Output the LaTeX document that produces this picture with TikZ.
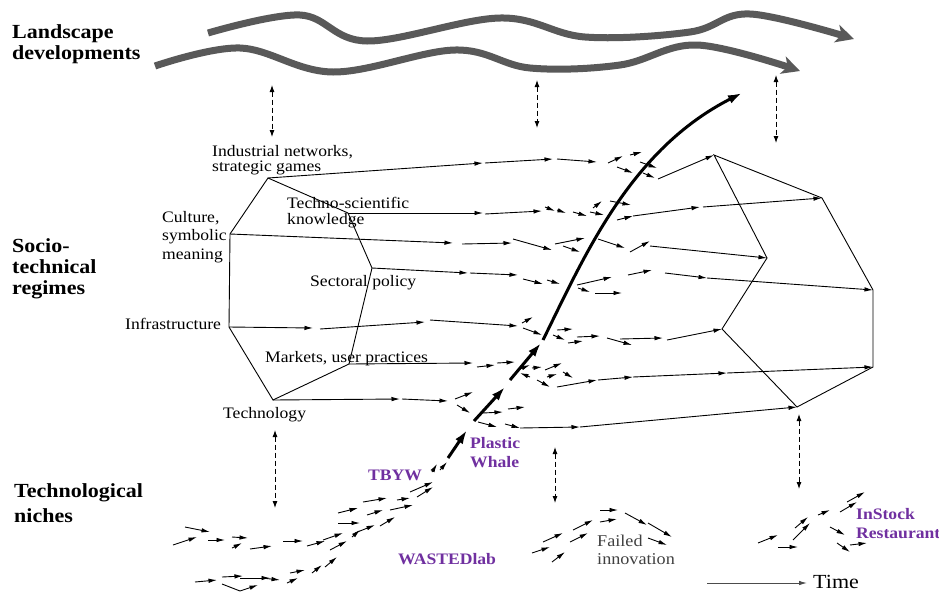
\documentclass[tikz,border=0pt]{standalone}
\usepackage{fontspec}
\setmainfont[FakeStretch=1.1]{Liberation Serif}
\usetikzlibrary{arrows.meta}
\definecolor{nichepurple}{RGB}{112,48,160}
\tikzstyle{levellabel}=[anchor=north west,inner sep=0pt,align=left,font=\fontsize{20}{21}\selectfont\bfseries]
\tikzstyle{dimlabel}=[anchor=north west,inner sep=0pt,align=left,font=\fontsize{16}{15}\selectfont]
\tikzstyle{caselabel}=[anchor=north west,inner sep=0pt,align=left,text=nichepurple,font=\fontsize{16}{19}\selectfont\bfseries]
\tikzstyle{regimeline}=[line width=0.9pt]
\tikzstyle{trackarc}=[-{Latex[length=8.5pt,width=4.5pt]},line width=0.9pt]
\tikzstyle{landarc}=[line width=7pt,black!65,-{Stealth[length=18pt,width=18pt,inset=5pt]}]
\tikzstyle{linkarc}=[{Latex[length=7pt,width=5pt]}-{Latex[length=7pt,width=5pt]},dash pattern=on 5pt off 3pt,line width=0.9pt]
\tikzstyle{breakarc}=[-{Latex[length=14pt,width=9pt]},line width=3pt]
\tikzstyle{timearc}=[-{Latex[length=8pt,width=4.5pt]},line width=0.9pt,black!70,shorten >=6pt]

\begin{document}
\begin{tikzpicture}[x=1pt,y=-1pt]
\useasboundingbox (0,0) rectangle (939,592);

\node[levellabel] (landscape) at (12,24) {Landscape\\developments};
\node[levellabel] (regime) at (12,238) {Socio-\\technical\\regimes};
\node[levellabel,font=\fontsize{20}{25}\selectfont\bfseries] (niches) at (14,483) {Technological\\niches};

\node[dimlabel] (industry) at (212,145) {Industrial networks,\\strategic games};
\node[dimlabel,font=\fontsize{16}{16}\selectfont] (science) at (287,197) {Techno-scientific\\knowledge};
\node[dimlabel,font=\fontsize{16}{18.5}\selectfont] (culture) at (162,211) {Culture,\\symbolic\\meaning};
\node[dimlabel] (policy) at (310,275) {Sectoral policy};
\node[dimlabel] (infra) at (125,318) {Infrastructure};
\node[dimlabel] (markets) at (265,351) {Markets, user practices};
\node[dimlabel] (technology) at (223,407) {Technology};
\node[dimlabel,font=\fontsize{16.5}{18}\selectfont,text=black!75] (failed) at (597,535) {Failed\\innovation};
\node[dimlabel,font=\fontsize{20}{20}\selectfont] (time) at (813,575) {Time};

\node[caselabel] (whale) at (470,437) {Plastic\\Whale};
\node[caselabel] (tbyw) at (368,470) {TBYW};
\node[caselabel] (wasted) at (398,553) {WASTEDlab};
\node[caselabel] (instock) at (856,508) {InStock\\Restaurant};

\draw[landarc] plot[smooth,tension=0.6] coordinates {(208,33) (300,15) (367,41) (500,18) (585,37) (690,32) (750,14) (854,39)};
\draw[landarc] plot[smooth,tension=0.6] coordinates {(155,66) (240,48) (333,72) (455,50) (530,68) (620,65) (697,45) (800,71)};

\draw[linkarc] (272,85) -- (272,137);
\draw[linkarc] (537,80) -- (537,128);
\draw[linkarc] (776,75) -- (776,143);
\draw[linkarc] (275,430) -- (275,508);
\draw[linkarc] (555,447) -- (555,503);
\draw[linkarc] (799,414) -- (799,489);

\coordinate (ind1) at (268,178);
\coordinate (tsk1) at (348,213);
\coordinate (pol1) at (372,268);
\coordinate (mkt1) at (349,364);
\coordinate (tec1) at (273,400);
\coordinate (inf1) at (229,327);
\coordinate (cul1) at (230,234);

\coordinate (ind2) at (714,155);
\coordinate (tsk2) at (822,198);
\coordinate (pol2) at (873,290);
\coordinate (mkt2) at (873,367);
\coordinate (tec2) at (797,407);
\coordinate (inf2) at (722,329);
\coordinate (cul2) at (767,258);

\draw[regimeline] (ind1) -- (tsk1) -- (pol1) -- (mkt1) -- (tec1) -- (inf1) -- (cul1) -- cycle;
\draw[regimeline] (ind2) -- (tsk2) -- (pol2) -- (mkt2) -- (tec2) -- (inf2) -- (cul2) -- cycle;

\draw[trackarc] (ind1) -- (483,163);
\draw[trackarc] (485,163) -- (553,159);
\draw[trackarc] (557,159) -- (597,162);
\draw[trackarc] (608,163) -- (623,156);
\draw[trackarc] (630,155) -- (642,152);
\draw[trackarc] (617,167) -- (633,173);
\draw[trackarc] (640,162) -- (657,168);
\draw[trackarc] (643,173) -- (655,178);
\draw[trackarc] (658,179) -- (ind2);

\draw[trackarc] (tsk1) -- (483,213);
\draw[trackarc] (485,214) -- (542,211);
\draw[trackarc] (545,207) -- (555,211);
\draw[trackarc] (557,210) -- (566,213);
\draw[trackarc] (573,212) -- (587,216);
\draw[trackarc] (590,212) -- (604,215);
\draw[trackarc] (593,208) -- (602,201);
\draw[trackarc] (610,201) -- (631,205);
\draw[trackarc] (617,220) -- (633,216);
\draw[trackarc] (633,216) -- (700,207);
\draw[trackarc] (703,207) -- (tsk2);

\draw[trackarc] (cul1) -- (453,243);
\draw[trackarc] (462,244) -- (512,243);
\draw[trackarc] (513,239) -- (552,250);
\draw[trackarc] (555,244) -- (585,238);
\draw[trackarc] (563,246) -- (580,252);
\draw[trackarc] (598,239) -- (625,248);
\draw[trackarc] (630,252) -- (650,241);
\draw[trackarc] (650,246) -- (cul2);

\draw[trackarc] (pol1) -- (468,273);
\draw[trackarc] (470,273) -- (518,275);
\draw[trackarc] (523,279) -- (543,284);
\draw[trackarc] (547,280) -- (560,284);
\draw[trackarc] (577,285) -- (612,277);
\draw[trackarc] (578,288) -- (590,292);
\draw[trackarc] (595,293) -- (622,293);
\draw[trackarc] (628,275) -- (652,270);
\draw[trackarc] (665,273) -- (707,278);
\draw[trackarc] (707,278) -- (pol2);

\draw[trackarc] (inf1) -- (313,328);
\draw[trackarc] (320,329) -- (425,322);
\draw[trackarc] (430,320) -- (518,326);
\draw[trackarc] (522,323) -- (533,317);
\draw[trackarc] (523,328) -- (542,335);
\draw[trackarc] (557,330) -- (573,329);
\draw[trackarc] (553,335) -- (565,340);
\draw[trackarc] (568,343) -- (583,341);
\draw[trackarc] (577,337) -- (600,336);
\draw[trackarc] (607,338) -- (632,345);
\draw[trackarc] (620,339) -- (663,338);
\draw[trackarc] (667,340) -- (inf2);

\draw[trackarc] (mkt1) -- (473,363);
\draw[trackarc] (477,367) -- (495,365);
\draw[trackarc] (497,363) -- (515,362);
\draw[trackarc] (517,370) -- (530,365);
\draw[trackarc] (532,368) -- (542,367);
\draw[trackarc] (530,377) -- (520,373);
\draw[trackarc] (545,370) -- (562,363);
\draw[trackarc] (547,377) -- (557,374);
\draw[trackarc] (563,372) -- (573,378);
\draw[trackarc] (537,380) -- (550,387);
\draw[trackarc] (557,387) -- (597,380);
\draw[trackarc] (598,380) -- (633,377);
\draw[trackarc] (633,377) -- (727,373);
\draw[trackarc] (727,373) -- (mkt2);

\draw[trackarc] (tec1) -- (400,399);
\draw[trackarc] (402,399) -- (448,401);
\draw[trackarc] (455,399) -- (473,392);
\draw[trackarc] (457,405) -- (470,413);
\draw[trackarc] (483,413) -- (503,412);
\draw[trackarc] (508,409) -- (525,407);
\draw[trackarc] (478,422) -- (497,427);
\draw[trackarc] (505,424) -- (520,428);
\draw[trackarc] (520,428) -- (580,427);
\draw[trackarc] (580,427) -- (tec2);

\draw[breakarc] (448,458) -- (467,430);
\draw[breakarc] (474,421) -- (505,387);
\draw[breakarc] (510,380) -- (541,343);
\draw[breakarc] (543,340) .. controls (585,255) and (630,150) .. (742,93);

\draw[trackarc] (185,527) -- (210,532);
\draw[trackarc] (173,545) -- (197,537);
\draw[trackarc] (208,540) -- (225,540);
\draw[trackarc] (232,537) -- (248,538);
\draw[trackarc] (232,548) -- (242,543);
\draw[trackarc] (250,549) -- (272,546);
\draw[trackarc] (283,541) -- (303,541);
\draw[trackarc] (307,546) -- (325,541);
\draw[trackarc] (323,540) -- (343,533);
\draw[trackarc] (330,550) -- (347,541);
\draw[trackarc] (352,537) -- (360,530);
\draw[trackarc] (338,513) -- (358,508);
\draw[trackarc] (338,523) -- (360,523);
\draw[trackarc] (195,582) -- (217,580);
\draw[trackarc] (222,577) -- (243,576);
\draw[trackarc] (240,578) -- (270,578);
\draw[trackarc] (222,584) -- (240,591) -- (258,585);
\draw[trackarc] (262,578) -- (280,580);
\draw[trackarc] (287,583) -- (298,578);
\draw[trackarc] (290,573) -- (305,570);
\draw[trackarc] (312,573) -- (322,565);
\draw[trackarc] (325,567) -- (337,557);
\draw[trackarc] (363,502) -- (387,498);
\draw[trackarc] (367,515) -- (383,510);
\draw[trackarc] (355,533) -- (375,525);
\draw[trackarc] (380,526) -- (395,517);
\draw[trackarc] (390,510) -- (413,505);
\draw[trackarc] (397,500) -- (410,498);
\draw[trackarc] (410,492) -- (433,482);
\draw[trackarc] (417,497) -- (433,487);
\draw[trackarc] (432,472) -- (437,464);
\draw[trackarc] (440,470) -- (447,462);

\draw[trackarc] (532,553) -- (550,547);
\draw[trackarc] (543,542) -- (563,533);
\draw[trackarc] (552,562) -- (565,552);
\draw[trackarc] (570,542) -- (588,533);
\draw[trackarc] (573,530) -- (593,520);
\draw[trackarc] (600,510) -- (618,510);
\draw[trackarc] (600,522) -- (617,519);
\draw[trackarc] (625,513) -- (647,525);
\draw[trackarc] (648,523) -- (672,537);
\draw[trackarc] (648,538) -- (667,545);

\draw[trackarc] (758,543) -- (778,535);
\draw[trackarc] (778,547) -- (798,547);
\draw[trackarc] (793,540) -- (810,523);
\draw[trackarc] (795,528) -- (808,517);
\draw[trackarc] (818,515) -- (830,510);
\draw[trackarc] (830,527) -- (845,535);
\draw[trackarc] (837,543) -- (850,552);
\draw[trackarc] (840,512) -- (857,502);
\draw[trackarc] (847,502) -- (865,492);
\draw[trackarc] (850,545) -- (867,543);

\coordinate (t0) at (707,583);
\draw[timearc] (t0) -- (time.west |- t0);

\end{tikzpicture}
\end{document}
